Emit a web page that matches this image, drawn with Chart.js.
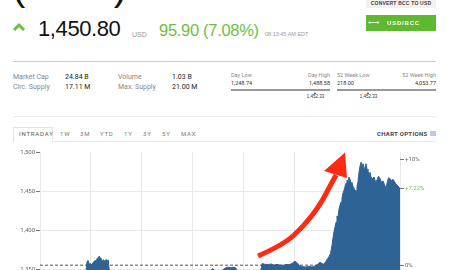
<!DOCTYPE html>
<html>
<head>
<meta charset="utf-8">
<script src="https://cdn.jsdelivr.net/npm/chart.js@4/dist/chart.umd.min.js"></script>
<style>
  html,body{margin:0;padding:0;width:450px;height:270px;overflow:hidden;background:#fff;font-family:"Liberation Sans",Arial,sans-serif;}
  .a{position:absolute;white-space:nowrap;line-height:1;}
  .lbl{color:#888;font-size:7px;font-family:"Liberation Sans Narrow","Roboto",sans-serif;}
  .val{color:#222;font-size:7px;font-family:"Liberation Sans Narrow","Roboto",sans-serif;}
  .tiny{color:#888;font-size:5.5px;font-family:"Liberation Sans Narrow","Roboto",sans-serif;}
  .tab{position:absolute;top:131px;font-size:6px;letter-spacing:0.8px;color:#777;font-family:"Roboto",sans-serif;line-height:1;}
  #wrap{position:absolute;left:0;top:145px;width:450px;height:175px;}
</style>
</head>
<body>
<!-- header -->
<div class="a" style="left:12px;top:-34px;font-size:40px;color:#111;letter-spacing:1px;">(BCC)</div>
<svg class="a" style="left:12px;top:22px" width="14" height="10"><polyline points="2,8 7,3 12,8" fill="none" stroke="#6cbf45" stroke-width="3"/></svg>
<div class="a" style="left:38px;top:18px;font-size:22px;color:#111;letter-spacing:-0.4px;">1,450.80</div>
<div class="a" style="left:132px;top:31px;font-size:7px;color:#999;">USD</div>
<div class="a" style="left:159px;top:22px;font-size:16.5px;color:#6cbf45;letter-spacing:-0.3px;">95.90 (7.08%)</div>
<div class="a" style="left:265px;top:32px;font-size:5.5px;color:#999;">08:13:45 AM EDT</div>
<div class="a" style="left:366px;top:-4px;width:70px;height:12px;background:#f1f1f1;"></div>
<div class="a" style="left:366px;top:1px;width:70px;text-align:center;font-size:5px;font-weight:bold;color:#444;letter-spacing:0.2px;">CONVERT BCC TO USD</div>
<div class="a" style="left:366px;top:15px;width:70px;height:16px;background:#5fb930;"></div>
<div class="a" style="left:368px;top:19px;font-size:8px;color:#e8f5e0;">⟷</div>
<div class="a" style="left:387px;top:20px;font-size:6px;font-weight:bold;color:#fff;letter-spacing:0.8px;">USD/BCC</div>
<div class="a" style="left:13px;top:61px;width:423px;height:1px;background:#cfcfcf;"></div>

<div class="a lbl" style="left:13px;top:74px;">Market Cap</div>
<div class="a val" style="left:65px;top:74px;">24.84 B</div>
<div class="a lbl" style="left:13px;top:84px;">Circ. Supply</div>
<div class="a val" style="left:65px;top:84px;">17.11 M</div>
<div class="a lbl" style="left:118px;top:74px;">Volume</div>
<div class="a val" style="left:172px;top:74px;">1.03 B</div>
<div class="a lbl" style="left:118px;top:84px;">Max. Supply</div>
<div class="a val" style="left:172px;top:84px;">21.00 M</div>

<div class="a tiny" style="left:231px;top:73px;">Day Low</div>
<div class="a tiny" style="left:280px;top:73px;width:50px;text-align:right;">Day High</div>
<div class="a tiny" style="left:231px;top:81px;color:#333;">1,248.74</div>
<div class="a tiny" style="left:280px;top:81px;width:50px;text-align:right;color:#333;">1,488.58</div>
<div class="a" style="left:231px;top:89px;width:99px;height:2px;background:#999;"></div>
<div class="a" style="left:314px;top:92px;width:0;height:0;border-left:1.5px solid transparent;border-right:1.5px solid transparent;border-bottom:2px solid #333;"></div>
<div class="a" style="left:305px;top:95px;width:21px;text-align:center;font-size:4.5px;color:#333;">1,452.33</div>

<div class="a tiny" style="left:337px;top:73px;">52 Week Low</div>
<div class="a tiny" style="left:380px;top:73px;width:56px;text-align:right;">52 Week High</div>
<div class="a tiny" style="left:337px;top:81px;color:#333;">218.00</div>
<div class="a tiny" style="left:380px;top:81px;width:56px;text-align:right;color:#333;">4,053.77</div>
<div class="a" style="left:337px;top:89px;width:99px;height:2px;background:#999;"></div>
<div class="a" style="left:367px;top:92px;width:0;height:0;border-left:1.5px solid transparent;border-right:1.5px solid transparent;border-bottom:2px solid #333;"></div>
<div class="a" style="left:358px;top:95px;width:21px;text-align:center;font-size:4.5px;color:#333;">1,452.33</div>

<div class="a" style="left:13px;top:116px;width:423px;height:1px;background:#ececec;"></div>

<!-- tabs -->
<div class="a" style="left:13px;top:127px;width:40px;height:15px;border:1px solid #e4e4e4;border-bottom:none;background:#fff;box-sizing:border-box;"></div>
<div class="a" style="left:53px;top:141px;width:383px;height:1px;background:#e8e8e8;"></div>
<div class="tab" style="left:19px;color:#555;">INTRADAY</div>
<div class="tab" style="left:60px;">1W</div>
<div class="tab" style="left:80px;">3M</div>
<div class="tab" style="left:100px;">YTD</div>
<div class="tab" style="left:124px;">1Y</div>
<div class="tab" style="left:143px;">3Y</div>
<div class="tab" style="left:162px;">5Y</div>
<div class="tab" style="left:181px;">MAX</div>
<div class="tab" style="left:377px;color:#444;font-weight:bold;letter-spacing:0.3px;">CHART OPTIONS</div>
<div class="a" style="left:430px;top:131px;width:6px;height:5px;background:#b8cde0;"></div>

<div id="wrap"><canvas id="c" width="450" height="175"></canvas></div>

<script>
// ---- data (minutes since start of intraday window, price in USD) ----
const minutes = [0,10,20,30,40,50,54,
  55.5,56.7,58.2,59.6,61.0,62.6,64.9,66.1,67.6,68.8,70.0,71.2,72.0,73.2,74.7,76.1,77.9,79.1,80.6,81.8,
  85,100,115,130,145,160,175,190,200,
  204.2,206.6,212.5,218.4,221.9,225.5,229.0,231.4,233.2,245,255,260.3,
  262.1,265.6,269.2,272.7,276.3,279.8,283.3,286.9,290.4,294.0,297.5,301.0,303.4,306.9,310.5,314.0,317.6,321.1,324.7,328.2,330.6,332.9,335.3,337.6,339.4,341.2,343.0,
  344.7,345.9,347.1,348.3,349.5,350.6,351.8,353.0,354.2,355.4,356.5,357.7,359.5,361.3,362.4,363.6,364.8,366.0,367.2,368.3,369.5,371.3,373.1,374.2,375.4,376.6,377.8,379.0,380.2,381.3,382.5,383.7,384.9,386.1,387.2,388.4,389.6,390.8,392.6,394.3,396.1,397.9,399.6,401.4,403.2,404.9,406.7,408.5,409.7,411.4,413.2,415.0,416.7,418.5,420.3,422.1,423.8,425];
const prices = [1344,1341,1343,1338,1342,1346,1345,
  1359,1361,1356,1357,1355,1358,1361,1360,1363.5,1365,1366.5,1364,1361.5,1360,1362,1360.5,1362,1361,1361.5,1347,
  1343,1340,1338,1341,1339,1342,1344,1346,1347,
  1350.5,1347,1346,1351,1352.5,1351.5,1352.5,1351,1347,1345,1344,1346,
  1357,1356,1355.5,1356.5,1355,1356,1355,1354.5,1356,1355.5,1357,1360,1358,1354,1353,1352.5,1353.5,1352.5,1354,1356,1359,1357,1356,1360,1363,1366,1370,
  1380,1390,1398,1404,1410,1418,1416,1427,1432,1436,1441,1447,1453,1460,1464,1461,1468,1465,1460,1461,1456,1452,1450,1455,1462,1474,1482,1487,1483,1485,1479,1480,1485,1478,1476,1470,1474,1468,1466,1468,1462,1464,1469,1466,1461,1463,1458,1454,1460,1467,1466,1463,1465,1462,1459,1457,1455,1452];
const prevClose = 1354.90;
const lastPrice = 1452.73;
const leftTicks = [1300,1350,1400,1450,1500];
const rightTicks = [prevClose, lastPrice, prevClose*1.10];
const rightLabels = ['0%','+7.22%','+10%'];
// annotation arrow, in chart data coordinates [minute, price]
const arrowPath = [[257.4,1366.7],[286.9,1380.8],[310.5,1403.8],[330.6,1432.1],[342.4,1456.4],[349.5,1470.5]];
const arrowHead = [[360.1,1499.4],[335.3,1475.6],[362.4,1466.7]];

const arrowPlugin = {
  id:'arrow',
  afterDatasetsDraw(chart){
    const {ctx, scales:{x,y}} = chart;
    const p = arrowPath.map(([a,b])=>[x.getPixelForValue(a), y.getPixelForValue(b)]);
    ctx.save();
    ctx.strokeStyle = '#ff2a12';
    ctx.fillStyle = '#ff2a12';
    ctx.lineWidth = 5;
    ctx.lineCap = 'butt';
    ctx.beginPath();
    ctx.moveTo(p[0][0], p[0][1]);
    for (let i=1;i<p.length-1;i++){
      const mx=(p[i][0]+p[i+1][0])/2, my=(p[i][1]+p[i+1][1])/2;
      ctx.quadraticCurveTo(p[i][0],p[i][1],mx,my);
    }
    ctx.lineTo(p[p.length-1][0], p[p.length-1][1]);
    ctx.stroke();
    const h = arrowHead.map(([a,b])=>[x.getPixelForValue(a), y.getPixelForValue(b)]);
    ctx.beginPath();
    ctx.moveTo(h[0][0],h[0][1]); ctx.lineTo(h[1][0],h[1][1]); ctx.lineTo(h[2][0],h[2][1]); ctx.closePath();
    ctx.fill();
    ctx.restore();
  }
};

const fontTick = {family:'Roboto', size:6};
new Chart(document.getElementById('c'), {
  type:'line',
  data:{
    datasets:[
      {data:[{x:0,y:prevClose},{x:425,y:prevClose}], borderColor:'#555', borderWidth:1, borderDash:[3,2], pointRadius:0, fill:false},
      {data:minutes.map((m,i)=>({x:m,y:prices[i]})), borderColor:'#2e6396', backgroundColor:'#2e6396', borderWidth:1, pointRadius:0, fill:'start', tension:0}
    ]
  },
  options:{
    responsive:false, animation:false, devicePixelRatio:1,
    layout:{padding:{top:7,bottom:12,left:0,right:0}},
    plugins:{legend:{display:false}, tooltip:{enabled:false}},
    scales:{
      x:{type:'linear', min:0, max:425, ticks:{display:false, stepSize:60}, grid:{color:'#e8e8e8', drawTicks:false}, border:{display:false},
         afterFit(s){s.height=0;}},
      y:{min:1300, max:1500, afterBuildTicks(s){s.ticks=leftTicks.map(v=>({value:v}));},
         ticks:{font:fontTick, color:'#666', padding:1, callback:v=>v.toLocaleString('en-US')},
         grid:{color:c=>c.tick && c.tick.value===1500?'rgba(0,0,0,0)':'#e8e8e8', tickColor:'#777', tickLength:4, drawTicks:true},
         border:{display:false},
         afterFit(s){s.width=40;}},
      y2:{position:'right', min:1300, max:1500, afterBuildTicks(s){s.ticks=rightTicks.map(v=>({value:v}));},
         ticks:{font:fontTick, padding:1, color:c=>c.index===1?'#6cbf45':'#666', callback:(v,i)=>rightLabels[i]},
         grid:{drawOnChartArea:false, drawTicks:true, tickLength:4, tickColor:'#777'},
         border:{display:false},
         afterFit(s){s.width=50;}}
    }
  },
  plugins:[arrowPlugin]
});
</script>
</body>
</html>
